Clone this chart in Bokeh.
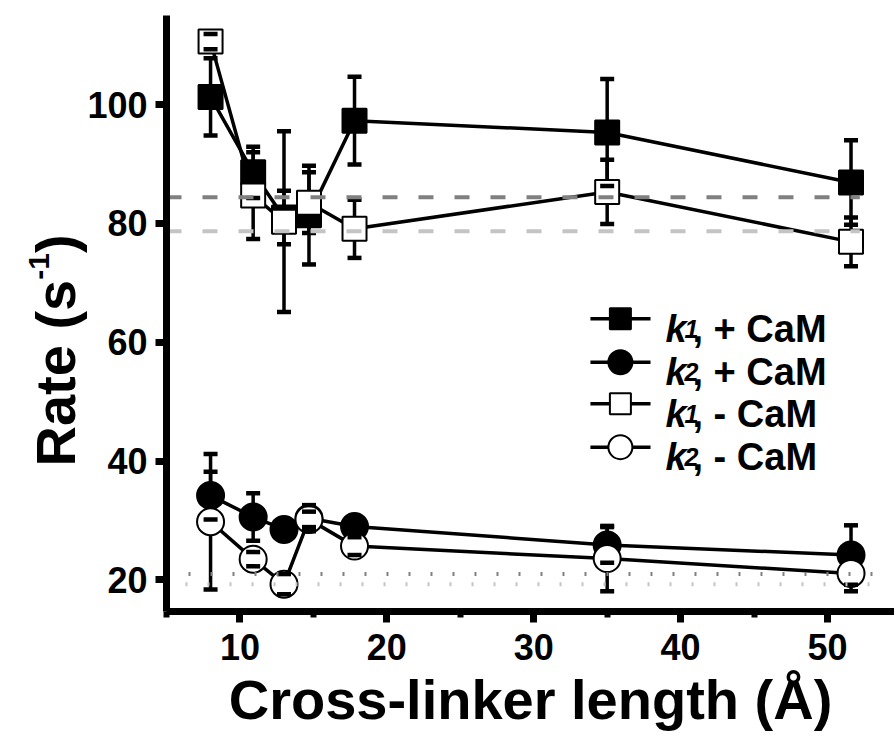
import math
from bokeh.plotting import figure
from bokeh.models import ColumnDataSource, SingleIntervalTicker, Range1d
from bokeh.core.properties import value
from bokeh.embed import file_html
from bokeh.resources import INLINE

# Cross-linker length (Å)
linker_length = [8.0, 10.9, 13.0, 14.7, 17.8, 35.0, 51.6]

# Rates (s^-1) with standard errors
k1_cam = [101.3, 88.6, 81.0, 81.4, 97.3, 95.3, 86.9]
k1_cam_err = [6.5, 4.3, 4.5, 8.3, 7.4, 9.0, 7.1]
k2_cam = [34.2, 30.6, 28.5, 30.4, 29.0, 25.9, 24.2]
k2_cam_err = [4.0, 4.0, 1.0, 2.2, 1.2, 3.0, 5.0]
k1_nocam = [110.6, 84.7, 80.3, 83.5, 79.1, 85.3, 76.9]
k1_nocam_err = [1.3, 7.3, 15.2, 5.1, 4.9, 5.4, 4.1]
k2_nocam = [29.8, 23.5, 19.3, 30.2, 25.7, 23.6, 21.1]
k2_nocam_err = [11.4, 1.2, 1.7, 1.3, 1.5, 5.5, 3.0]

# Horizontal reference levels
dashed_levels = [84.4, 78.7]
dotted_levels = [21.0, 19.3]
ref_colors = ["#808080", "#c4c4c4"]

# Legend
legend_sym = ["k", "k", "k", "k"]
legend_sub = ["1", "2", "1", "2"]
legend_rest = [", + CaM", ", + CaM", ", - CaM", ", - CaM"]

# Y axis title pieces
ytitle_main = ["Rate (s", ")"]
ytitle_sup = ["-1"]

FONT = "Liberation Sans"
TICK_FONT = "Arial"
X0, X1 = 5, 54.56      # visible x axis extent
Y0, Y1 = 14.7, 115     # visible y axis extent

# The frame spans the whole canvas; the axes sit at fixed positions inside it
p = figure(width=894, height=753, output_backend="svg", toolbar_location=None,
           x_range=Range1d(-6.30, 54.56), y_range=Range1d(-9.20, 117.52),
           min_border=0)
p.outline_line_color = None
p.xgrid.visible = False
p.ygrid.visible = False
p.background_fill_color = "white"
p.border_fill_color = "white"

for ax in (p.xaxis[0], p.yaxis[0]):
    ax.axis_line_width = 7
    ax.axis_line_color = "black"
    ax.major_tick_line_width = 7
    ax.major_tick_in = 0
    ax.major_tick_out = 11
    ax.major_label_text_font = TICK_FONT
    ax.major_label_text_font_style = "bold"
    ax.major_label_text_font_size = "36px"
    ax.major_label_text_color = "black"

p.xaxis.fixed_location = Y0
p.xaxis.bounds = (X0, X1)
p.xaxis.ticker = SingleIntervalTicker(interval=10, num_minor_ticks=2)
p.xaxis.minor_tick_line_width = 6
p.xaxis.minor_tick_in = 0
p.xaxis.minor_tick_out = 6
p.xaxis.major_label_standoff = 12
p.xaxis.axis_label = "Cross-linker length (Å)"
p.xaxis.axis_label_text_font = FONT
p.xaxis.axis_label_text_font_style = "bold"
p.xaxis.axis_label_text_font_size = "56px"
p.xaxis.axis_label_text_color = "black"
p.xaxis.axis_label_standoff = 4

p.yaxis.fixed_location = X0
p.yaxis.bounds = (Y0, Y1)
p.yaxis.ticker = SingleIntervalTicker(interval=20, num_minor_ticks=0)
p.yaxis.minor_tick_line_color = None
p.yaxis.major_label_standoff = 8

# Y axis title, rotated to read upward, with a superscript exponent
p.text(x=[-2.556, -2.556], y=[39.1, 75.01], text=ytitle_main, angle=math.pi / 2,
       text_font=value(FONT), text_font_style="bold", text_font_size="56px",
       text_baseline="alphabetic", text_align="left", text_color="black")
p.text(x=[-3.65], y=[70.52], text=ytitle_sup, angle=math.pi / 2,
       text_font=value(FONT), text_font_style="bold", text_font_size="30px",
       text_baseline="alphabetic", text_align="left", text_color="black")

series = [
    dict(y=k1_cam, e=k1_cam_err, marker="square", fill="black", size=24),
    dict(y=k2_cam, e=k2_cam_err, marker="circle", fill="black", size=27),
    dict(y=k1_nocam, e=k1_nocam_err, marker="square", fill="white", size=24),
    dict(y=k2_nocam, e=k2_nocam_err, marker="circle", fill="white", size=27),
]
sources = []
for s in series:
    lo = [v - e for v, e in zip(s["y"], s["e"])]
    hi = [v + e for v, e in zip(s["y"], s["e"])]
    sources.append(ColumnDataSource(dict(x=linker_length, y=s["y"], lo=lo, hi=hi)))

# connecting lines
for src in sources:
    p.line("x", "y", source=src, line_color="black", line_width=3.5)

# each series: error stems, then symbols on top
for s, src in zip(series, sources):
    p.segment("x", "lo", "x", "hi", source=src, line_color="black", line_width=3.5)
    p.scatter("x", "y", source=src, marker=s["marker"], size=s["size"],
              fill_color=s["fill"], line_color="black", line_width=2)

# error-bar caps
for src in sources:
    p.scatter("x", "lo", source=src, marker="dash", size=14, line_color="black", line_width=4.5)
    p.scatter("x", "hi", source=src, marker="dash", size=14, line_color="black", line_width=4.5)

# reference levels
for lvl, col in zip(dashed_levels, ref_colors):
    p.line([X0, 52.2], [lvl, lvl], line_color=col, line_width=4, line_dash="15 21")
for lvl, col, off in zip(dotted_levels, ref_colors, [0, 3]):
    p.line([X0, 53.6], [lvl, lvl], line_color=col, line_width=4, line_dash="2 20",
           line_dash_offset=off)

# legend
row_y = [63.96, 56.65, 49.65, 42.35]
for i, s in enumerate(series):
    yy = row_y[i]
    p.line([33.86, 37.95], [yy, yy], line_color="black", line_width=3.5)
    p.scatter([35.9], [yy], marker=s["marker"], size=s["size"] - 3,
              fill_color=s["fill"], line_color="black", line_width=2)

base_y = [v - 1.7 for v in row_y]
leg = ColumnDataSource(dict(x=[38.97] * 4, y=base_y, sym=legend_sym,
                            sub=legend_sub, rest=legend_rest))
p.text("x", "y", text="sym", source=leg, text_font=value(FONT), text_font_style="bold italic",
       text_font_size="38px", text_baseline="alphabetic", text_color="black")
p.text("x", "y", text="sub", source=leg, text_font=value(FONT), text_font_style="bold italic",
       text_font_size="25px", text_baseline="alphabetic", text_color="black", x_offset=19)
p.text("x", "y", text="rest", source=leg, text_font=value(FONT), text_font_style="bold",
       text_font_size="38px", text_baseline="alphabetic", text_color="black", x_offset=27)

open("out.html", "w").write(file_html(p, INLINE))
